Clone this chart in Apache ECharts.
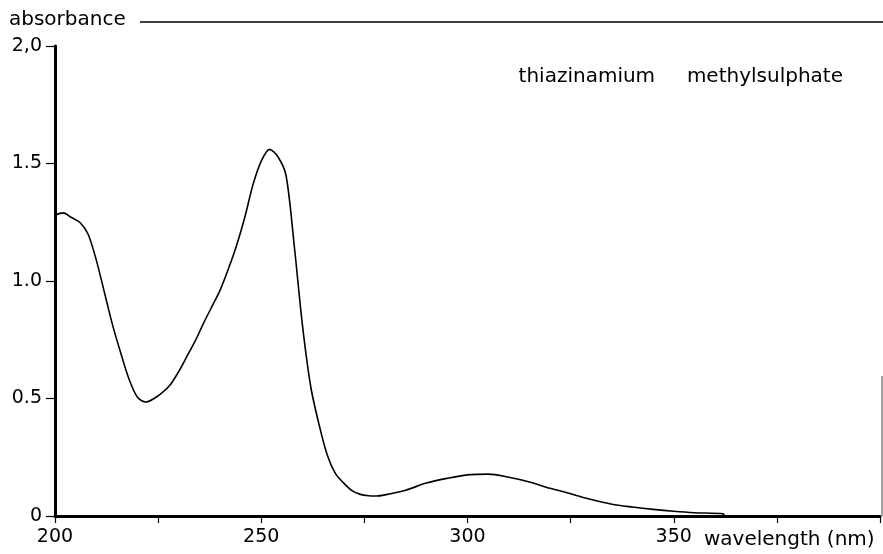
<!DOCTYPE html>
<html>
<head>
<meta charset="utf-8">
<script src="https://cdn.jsdelivr.net/npm/echarts@6/dist/echarts.min.js"></script>
<style>
  html, body { margin: 0; padding: 0; background: #fff; }
  #chart { width: 883px; height: 554px; }
</style>
</head>
<body>
<div id="chart"></div>
<script>
// wavelength (nm) and absorbance
var wavelength = [200, 202, 204, 206, 208, 210, 212, 214, 216, 218, 220, 222, 224, 226, 228, 230, 232, 234, 236, 238, 240, 242, 244, 246, 248, 250, 252, 254, 256, 258, 260, 262, 264, 266, 268, 270, 272, 274, 276, 278, 280, 285, 290, 295, 300, 305, 310, 315, 320, 325, 330, 335, 340, 345, 350, 355, 362, 362.2];
var absorbance = [1.28, 1.29, 1.27, 1.25, 1.20, 1.09, 0.95, 0.81, 0.69, 0.58, 0.505, 0.485, 0.50, 0.525, 0.56, 0.615, 0.68, 0.745, 0.82, 0.89, 0.96, 1.05, 1.15, 1.27, 1.41, 1.51, 1.56, 1.53, 1.45, 1.15, 0.81, 0.55, 0.39, 0.26, 0.18, 0.14, 0.108, 0.092, 0.086, 0.085, 0.09, 0.11, 0.14, 0.16, 0.175, 0.178, 0.165, 0.145, 0.118, 0.095, 0.07, 0.05, 0.038, 0.028, 0.02, 0.014, 0.009, 0];

var xLabels = { 200: '200', 250: '250', 300: '300', 350: '350' };
var yLabels = { 0: '0', 0.5: '0.5', 1: '1.0', 1.5: '1.5', 2: '2,0' };

var chart = echarts.init(document.getElementById('chart'));
var font = 'DejaVu Sans';

var option = {
  backgroundColor: '#fff',
  animation: false,
  title: {
    text: 'thiazinamium     methylsulphate',
    right: 35,
    top: 62,
    textStyle: { fontFamily: font, fontSize: 20, fontWeight: 'normal', color: '#000' }
  },
  grid: { left: 55, right: 1, top: 46, bottom: 38 },
  xAxis: {
    type: 'value',
    min: 200,
    max: 400,
    interval: 25,
    name: 'wavelength (nm)',
    nameLocation: 'end',
    nameGap: -176,
    nameTextStyle: { fontFamily: font, fontSize: 20, color: '#000', align: 'left', verticalAlign: 'top', padding: [14, 0, 0, 0] },
    axisLine: { lineStyle: { color: '#000', width: 3 } },
    axisTick: { length: 7, lineStyle: { color: '#000', width: 1.2 } },
    axisLabel: {
      fontFamily: font, fontSize: 19, color: '#000', margin: 12,
      formatter: function (v) { return xLabels[v] || ''; }
    },
    splitLine: { show: false }
  },
  yAxis: {
    type: 'value',
    min: 0,
    max: 2,
    interval: 0.5,
    axisLine: { onZero: false, lineStyle: { color: '#000', width: 3 } },
    axisTick: { length: 9, lineStyle: { color: '#000', width: 1.2 } },
    axisLabel: {
      fontFamily: font, fontSize: 19, color: '#000', margin: 13,
      formatter: function (v) { return yLabels[v]; }
    },
    splitLine: { show: false }
  },
  graphic: [
    { type: 'text', left: 9, top: 10, style: { text: 'absorbance', font: '20px "DejaVu Sans"', fill: '#000' } },
    { type: 'line', shape: { x1: 140, y1: 22, x2: 883, y2: 22 }, style: { stroke: '#000', lineWidth: 1.3 } },
    { type: 'line', shape: { x1: 882, y1: 376, x2: 882, y2: 516 }, style: { stroke: '#444', lineWidth: 1 } }
  ],
  series: [
    {
      type: 'line',
      data: wavelength.map(function (w, i) { return [w, absorbance[i]]; }),
      showSymbol: false,
      smooth: 0.3,
      lineStyle: { color: '#000', width: 1.6 }
    }
  ]
};

chart.setOption(option);
</script>
</body>
</html>
